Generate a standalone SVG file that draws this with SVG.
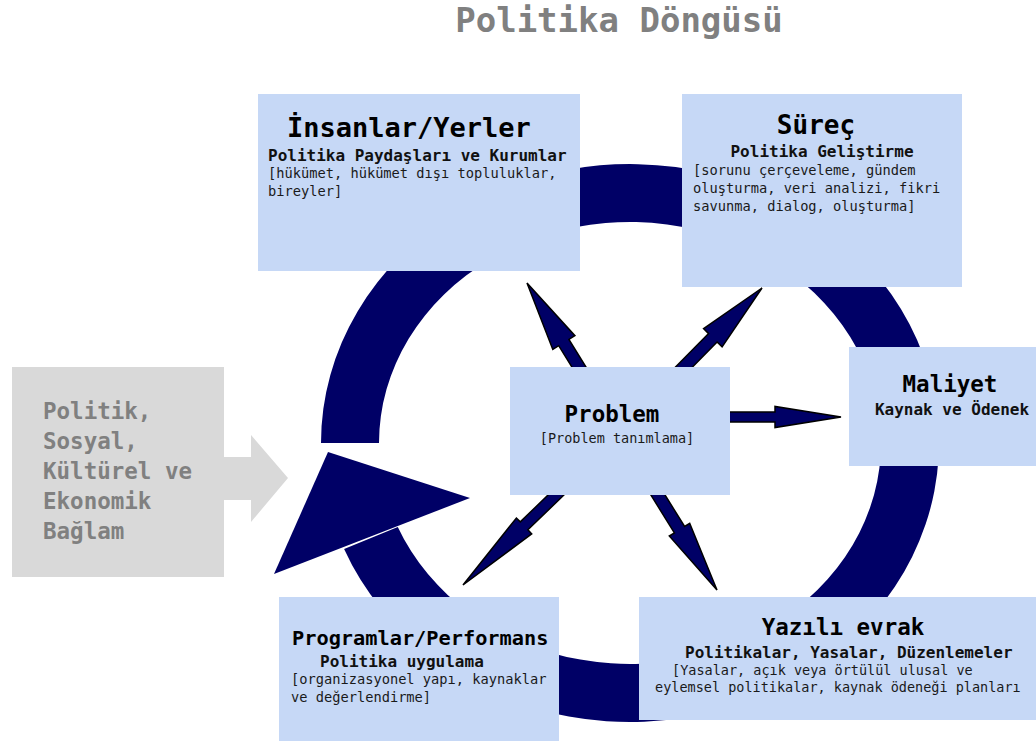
<svg xmlns="http://www.w3.org/2000/svg" width="1036" height="741" viewBox="0 0 1036 741">
<style>
text{font-family:"DejaVu Sans Mono","Liberation Mono",monospace;}
.box{fill:#c6d8f6;}
.ttl{font-weight:bold;fill:#000;}
.sub{font-weight:bold;font-size:16px;fill:#111;}
.txt{font-size:13.7px;fill:#1a1a1a;}
.gry{font-weight:bold;font-size:22.5px;fill:#808080;}
.arr{fill:#000066;stroke:#000;stroke-width:1.5;stroke-linejoin:miter;}
.ring{fill:#000066;}
</style>
<rect width="1036" height="741" fill="#fff"/>
<text x="619" y="32" text-anchor="middle" class="gry" style="font-size:34px">Politika Döngüsü</text>

<g id="context">
<path d="M12,367 H224 V457 H251 V435 L288,478 L251,522 V500 H224 V577 H12 Z" fill="#d9d9d9"/>
<text class="gry" x="43" y="419">Politik,</text>
<text class="gry" x="43" y="449">Sosyal,</text>
<text class="gry" x="43" y="479">Kültürel ve</text>
<text class="gry" x="43" y="509">Ekonomik</text>
<text class="gry" x="43" y="539">Bağlam</text>
</g>

<g id="connectors">
<path class="ring" d="M321,443 A309,279 0 1 1 344.1,548.9 L397.8,526.9 A251,221 0 1 0 379,443 Z"/>
<polygon class="ring" points="274,574 470,498 328,452"/>
<polygon class="arr" points="592.1,376.8 568.9,339.4 574.9,335.7 527,283 552.8,349.4 558.7,345.7 581.9,383.2"/>
<polygon class="arr" points="675.5,384.2 717.1,342 722.1,346.9 762,288 703.6,328.7 708.6,333.6 666.9,375.8"/>
<polygon class="arr" points="720,412 775,412 775,406.5 841,417 775,427.5 775,422 720,422"/>
<polygon class="arr" points="565.6,478 520.3,521.9 516.4,518 463,585 531.7,533.8 527.9,529.8 573.2,486"/>
<polygon class="arr" points="644.8,485.2 674.4,532.9 669.3,536 717,590 689.7,523.4 684.6,526.5 655,478.8"/>
</g>

<g id="insanlar">
<rect class="box" x="258" y="94" width="322" height="177"/>
<text class="ttl" x="287" y="137" style="font-size:27px">İnsanlar/Yerler</text>
<text class="sub" x="268" y="161">Politika Paydaşları ve Kurumlar</text>
<text class="txt" x="268" y="178">[hükümet, hükümet dışı topluluklar,</text>
<text class="txt" x="268" y="196">bireyler]</text>
</g>

<g id="surec">
<rect class="box" x="682" y="94" width="280" height="193"/>
<text class="ttl" x="816" y="134" text-anchor="middle" style="font-size:26px">Süreç</text>
<text class="sub" x="822" y="157" text-anchor="middle">Politika Geliştirme</text>
<text class="txt" x="693" y="175">[sorunu çerçeveleme, gündem</text>
<text class="txt" x="693" y="193">oluşturma, veri analizi, fikri</text>
<text class="txt" x="693" y="211">savunma, dialog, oluşturma]</text>
</g>

<g id="maliyet">
<rect class="box" x="849" y="347" width="187" height="119"/>
<text class="ttl" x="950" y="392" text-anchor="middle" style="font-size:22.5px">Maliyet</text>
<text class="sub" x="952" y="415" text-anchor="middle">Kaynak ve Ödenek</text>
</g>

<g id="problem">
<rect class="box" x="510" y="367" width="220" height="128"/>
<text class="ttl" x="612" y="422" text-anchor="middle" style="font-size:22.5px">Problem</text>
<text class="txt" x="617" y="443" text-anchor="middle" style="font-size:13.5px">[Problem tanımlama]</text>
</g>

<g id="programlar">
<rect class="box" x="279" y="597" width="280" height="144"/>
<text class="ttl" x="292" y="645" style="font-size:20.3px">Programlar/Performans</text>
<text class="sub" x="320" y="667">Politika uygulama</text>
<text class="txt" x="291" y="684">[organizasyonel yapı, kaynaklar</text>
<text class="txt" x="291" y="702">ve değerlendirme]</text>
</g>

<g id="yazili">
<rect class="box" x="639" y="597" width="397" height="123"/>
<text class="ttl" x="843" y="635" text-anchor="middle" style="font-size:22.5px">Yazılı evrak</text>
<text class="sub" x="685" y="658">Politikalar, Yasalar, Düzenlemeler</text>
<text class="txt" x="672" y="675" style="font-size:13.5px">[Yasalar, açık veya örtülül ulusal ve</text>
<text class="txt" x="655" y="692" style="font-size:13.5px">eylemsel politikalar, kaynak ödeneği planları</text>
</g>
</svg>
